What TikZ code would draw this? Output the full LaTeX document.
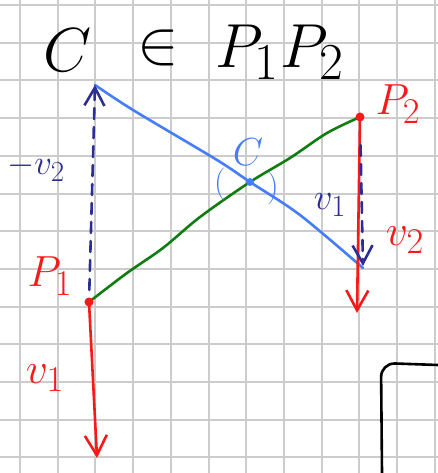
\documentclass[tikz,border=0pt]{standalone}
\usetikzlibrary{arrows.meta, positioning, calc}
\definecolor{gridgray}{RGB}{204,204,204}
\definecolor{penblue}{RGB}{70,125,250}
\definecolor{pengreen}{RGB}{15,125,15}
\definecolor{penred}{RGB}{250,25,25}
\definecolor{pennavy}{RGB}{45,45,150}

\begin{document}
\begin{tikzpicture}[
    x=1pt, y=-1pt,
    pen/.style={line width=2.6pt, line cap=round, line join=round},
    vel/.style={pen, penred, -{Straight Barb[length=20pt, width=22pt]}},
    shiftvec/.style={pen, pennavy, dash pattern=on 11pt off 8pt, -{Straight Barb[length=18pt, width=20pt]}},
    lbl/.style={inner sep=0pt, font=\Huge, scale=1.75},
    titletext/.style={inner sep=0pt, font=\Huge, scale=2.5},
    dot/.style={circle, fill, inner sep=0pt, minimum size=9pt}
]
    \useasboundingbox (0,0) rectangle (438,473);

    % Grid paper
    \foreach \gx in {0,...,11}
        \draw[gridgray, line width=2pt] ({20+37.7*\gx},0) -- ({20+37.7*\gx},473);
    \foreach \gy in {0,...,12}
        \draw[gridgray, line width=2pt] (0,{5+37.7*\gy}) -- (438,{5+37.7*\gy});

    % Points
    \coordinate (P1) at (89,302);
    \coordinate (P2) at (360,117);
    \coordinate (C) at (250,182);
    \coordinate (Ctop) at (95,85);
    \coordinate (Cend) at (363,268);
    \coordinate (v1tip) at (97,458);
    \coordinate (v2tip) at (357,313);

    % Title
    \node[titletext] (titleC) at (68,50) {$C$};
    \node[titletext] (titleIn) at (158,48) {$\in$};
    \node[titletext] (titleP) at (280,52) {$P_1P_2$};

    % Lines through C
    \draw[pen, penblue] plot[smooth] coordinates {(Ctop) (133,110) (217,160) (C) (300,215) (Cend)};
    \draw[pen, pengreen] plot[smooth] coordinates {(P1) (127,273) (163,248) (200,217) (C) (290,158) (327,133) (P2)};

    % Velocities
    \draw[vel] (P1) -- (v1tip);
    \draw[vel] (P2) -- (v2tip);
    \draw[shiftvec, shorten <=12pt] (P1) -- (Ctop);
    \draw[shiftvec, shorten <=28pt, shorten >=2pt] (P2) -- (Cend);

    % Dots
    \node[dot, penred] (dotP1) at (P1) {};
    \node[dot, penred] (dotP2) at (P2) {};
    \node[dot, penblue, minimum size=8pt] (dotC) at (C) {};

    % Labels
    \node[lbl, penred] (labP1) at (50,276) {$P_1$};
    \node[lbl, penred] (labP2) at (398,104) {$P_2$};
    \node[lbl, penred] (labv1) at (45,378) {$v_1$};
    \node[lbl, penred] (labv2) at (405,240) {$v_2$};
    \node[lbl, pennavy, scale=0.8] (labmv2) at (36,168) {$-v_2$};
    \node[lbl, pennavy, scale=0.85] (labv1b) at (330,205) {$v_1$};
    \node[lbl, penblue, scale=0.9] (labC) at (248,152) {$C$};
    \node[lbl, penblue, scale=0.75] (lpar) at (220,184) {(};
    \node[lbl, penblue, scale=0.75] (rpar) at (273,188) {)};

    % Corner of next sketch
    \draw[pen, black, rounded corners=14pt] (382,473) -- (381,363) -- (438,365);
\end{tikzpicture}
\end{document}
